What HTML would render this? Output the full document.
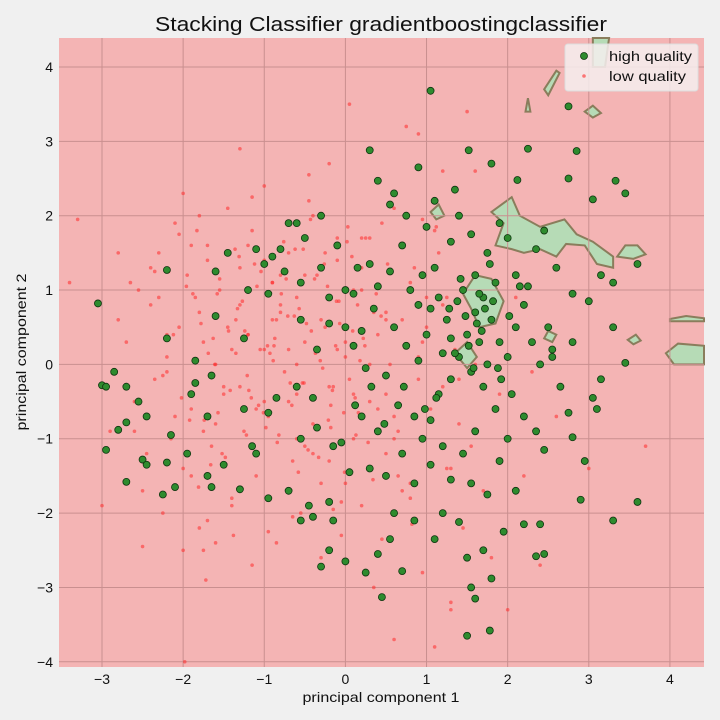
<!DOCTYPE html>
<html><head><meta charset="utf-8"><style>
body{margin:0;background:#f0f0f0;}
svg{display:block;font-family:"Liberation Sans","DejaVu Sans",sans-serif;}
</style></head><body>
<svg id="chart" width="720" height="720">
<rect width="720" height="720" fill="#f0f0f0"/>
<text x="381" y="31" font-size="20" text-anchor="middle" textLength="452" lengthAdjust="spacingAndGlyphs" fill="#111">Stacking Classifier gradientboostingclassifier</text>
<text x="381" y="702" font-size="14" text-anchor="middle" textLength="157" lengthAdjust="spacingAndGlyphs" fill="#111">principal component 1</text>
<text transform="translate(26,352) rotate(-90)" font-size="14" text-anchor="middle" textLength="157" lengthAdjust="spacingAndGlyphs" fill="#111">principal component 2</text>
<g id="plot"></g>
</svg>
<script>
const xTicks=[-3,-2,-1,0,1,2,3,4];
const yTicks=[-4,-3,-2,-1,0,1,2,3,4];
const highX=[1.05,0.3,1.52,1.8,2.25,0.9,2.75,2.85,3.33,3.45,0.4,0.6,1.1,1.35,2.12,2.75,3.05,3.15,3.3,3.6,-0.3,-0.6,-0.9,-1.1,-1.0,-0.8,-0.7,-2.2,-1.6,-1.45,-1.2,-0.95,-0.75,-0.55,-0.5,-3.05,-2.2,-3.0,-2.95,-2.85,-2.7,-2.55,-2.45,-2.8,-2.7,-2.95,-2.5,-2.45,-2.2,-2.15,-2.7,-2.25,-2.1,-1.95,-1.7,-1.65,-1.5,-1.3,-1.1,-1.15,-0.95,-0.95,-0.7,-0.55,-0.4,-0.45,-0.2,-0.15,-0.2,-0.3,0.0,0.25,0.4,0.55,0.45,0.7,0.85,0.6,1.1,1.2,1.4,1.5,1.6,1.55,1.5,1.78,1.8,1.7,1.95,2.2,2.35,2.45,2.4,2.9,3.3,3.6,2.95,2.8,2.75,3.05,3.1,3.15,3.45,3.3,3.0,2.8,2.35,2.45,2.0,-1.25,-1.85,-1.65,-1.85,-1.6,-1.7,-1.9,-1.25,-0.85,-0.6,-0.4,-0.35,-0.55,-0.15,-0.05,0.05,0.2,0.3,0.5,-0.55,-0.2,-0.35,0.0,0.1,0.2,0.35,0.1,0.15,0.3,0.4,0.55,0.7,0.8,0.9,0.95,1.1,1.15,1.25,0.6,0.75,0.9,0.5,0.65,0.85,0.95,1.05,1.15,1.3,1.4,1.5,1.6,1.7,1.8,1.9,2.0,2.1,2.2,2.3,2.4,2.5,1.6,1.75,1.55,1.9,2.1,2.25,1.45,1.3,1.55,1.7,1.85,1.6,1.45,1.3,1.2,1.05,0.85,0.7,0.4,0.25,1.0,1.2,1.65,1.75,2.05,2.2,1.9,1.75,1.55,2.1,2.8,2.6,2.45,2.35,1.4,2.0,2.55,2.65,0.55,1.3,1.0,0.75,-0.1,-0.3,0.0,-0.2,2.55,1.85,1.62,1.72,1.82,1.48,1.35,1.58,1.92,2.02,1.68,1.38,1.12,0.98,0.72,0.48,0.32,0.12,1.78,1.52,1.88,2.15,1.42,1.65,1.28,1.05];
const highY=[3.68,2.88,2.88,2.7,2.9,2.65,3.47,2.87,2.47,2.3,2.47,2.3,2.2,2.35,2.48,2.5,2.22,1.2,1.1,1.35,2.0,1.9,1.45,1.55,1.35,1.55,1.9,1.27,1.25,1.5,1.0,0.95,1.25,1.1,1.7,0.82,0.35,-0.28,-0.3,-0.1,-0.3,-0.5,-0.7,-0.88,-0.78,-1.15,-1.28,-1.35,-1.32,-0.95,-1.58,-1.75,-1.65,-1.2,-1.5,-1.65,-1.35,-1.68,-1.2,-1.1,-0.65,-1.8,-1.7,-2.1,-2.05,-1.9,-1.85,-2.1,-2.5,-2.72,-2.65,-2.8,-2.55,-2.35,-3.13,-2.78,-2.1,-2.0,-2.35,-2.0,-2.12,-2.6,-3.15,-3.0,-3.65,-3.58,-2.88,-2.5,-2.25,-2.15,-2.58,-2.55,-2.15,-1.82,-2.1,-1.85,-1.3,-0.98,-0.65,-0.45,-0.6,-0.2,0.02,0.5,0.85,0.3,-0.9,-1.15,-1.0,0.35,0.05,-0.15,-0.25,0.65,-0.7,-0.4,-0.6,-0.45,-0.3,-0.45,-0.85,-1.0,-1.1,-1.05,-1.45,-0.7,-1.4,-1.5,0.6,0.55,0.2,0.5,0.25,0.45,0.75,0.95,1.3,1.35,1.05,1.25,1.6,1.0,0.8,1.2,1.3,0.9,0.6,0.5,0.25,0.05,-0.15,-0.55,-0.7,-1.0,-0.75,-0.4,-0.2,0.1,0.4,0.7,0.9,0.6,0.3,0.1,0.5,0.8,0.3,0.0,0.5,1.2,1.5,1.75,1.9,1.2,1.05,1.0,0.35,-0.1,-0.3,-0.6,-0.9,-1.2,-1.55,-1.1,-1.35,-1.6,-1.2,-0.9,-0.05,0.4,0.15,0.3,0.0,-0.4,-0.7,-1.3,-1.75,-1.6,-1.7,0.95,1.3,1.8,1.55,2.0,1.7,0.1,-0.3,2.15,1.65,1.85,2.0,1.6,1.3,1.0,0.9,0.2,1.1,0.55,0.75,0.85,0.65,0.15,-0.05,-0.2,0.65,0.45,0.85,-0.45,-0.6,-0.3,-0.8,-0.3,-0.55,1.35,0.25,-0.05,1.05,1.15,0.95,0.75,0.75];
const lowX=[-3.3,-3.0,-2.8,-2.7,-2.6,-2.55,-2.5,-2.4,-2.35,-2.3,-2.25,-2.2,-2.15,-2.1,-2.05,-2.0,-1.95,-1.9,-1.85,-1.8,-1.75,-1.7,-1.65,-1.6,-1.55,-1.5,-1.45,-1.4,-1.35,-1.3,-1.25,-1.2,-1.15,-1.1,-1.05,-1.0,-0.95,-0.9,-0.85,-0.8,-0.75,-0.7,-0.65,-0.6,-0.55,-0.5,-0.45,-0.4,-0.35,-0.3,-0.25,-0.2,-0.15,-0.1,-0.05,0.0,0.05,0.1,0.15,0.2,0.25,0.3,0.35,0.4,0.45,0.5,0.55,0.6,0.65,0.7,0.75,0.8,0.85,0.9,0.95,1.0,1.05,1.1,1.15,1.2,1.25,1.3,1.35,1.4,1.45,1.5,1.55,1.6,1.7,1.8,1.9,2.0,2.2,2.4,2.6,3.0,3.7,-2.9,-2.65,-2.45,-2.2,-2.0,-1.8,-1.6,-1.4,-1.2,-1.0,-0.8,-0.6,-0.4,-0.2,0.0,0.2,0.4,0.6,0.8,1.0,1.2,1.4,-2.4,-2.1,-1.9,-1.7,-1.5,-1.3,-1.1,-0.9,-0.7,-0.5,-0.3,-0.1,0.1,0.3,0.5,0.7,0.9,1.1,1.3,-2.3,-2.0,-1.75,-1.45,-1.15,-0.85,-0.55,-0.25,0.05,0.35,0.65,0.95,1.25,-1.9,-1.6,-1.3,-1.0,-0.7,-0.4,-0.1,0.2,0.5,0.8,-2.6,-2.2,-1.8,-1.4,-1.0,-0.6,-0.2,0.2,0.6,1.0,-1.7,-1.2,-0.8,-0.3,0.1,0.6,-0.5,0.3,-0.9,0.0,1.2,1.6,2.3,2.1,-3.4,-0.6,0.5,1.3,-1.3,-2.8,0.9,
-2.12,-1.98,-1.83,-1.72,-1.61,-1.52,-1.38,-1.27,-1.16,-1.04,-0.93,-0.82,-0.71,-0.62,-0.51,-0.42,-0.33,-0.22,-0.12,-0.02,0.08,0.18,0.28,0.38,0.48,-2.05,-1.92,-1.78,-1.66,-1.55,-1.42,-1.33,-1.21,-1.09,-0.98,-0.87,-0.76,-0.66,-0.57,-0.46,-0.37,-0.26,-0.16,-0.07,0.03,0.13,0.24,0.34,0.44,-2.18,-2.02,-1.88,-1.74,-1.63,-1.48,-1.36,-1.24,-1.12,-1.01,-0.89,-0.79,-0.68,-0.58,-0.48,-0.38,-0.28,-0.18,-0.08,0.02,0.12,0.22,-1.96,-1.81,-1.69,-1.57,-1.44,-1.31,-1.19,-1.07,-0.96,-0.84,-0.73,-0.63,-0.53,-0.43,-0.31,-0.21,-0.11,-0.01,0.09,-2.35,-2.25,-1.58,-1.22,-0.88,-0.52,-0.18,0.16,0.52,0.82,1.12,-2.5,-1.15,-0.65,-0.05,0.45,0.95,-1.75,-1.35,-0.95,-0.45,-0.15];
const lowY=[1.95,-1.9,0.6,0.3,-0.5,1.0,-1.7,0.8,-0.2,1.5,-2.0,0.1,-1.0,1.9,0.5,-1.4,1.2,-0.6,0.9,-2.2,0.3,1.6,-1.1,0.0,1.0,-0.4,2.1,-1.8,0.6,1.3,-0.9,0.4,1.8,-1.5,0.2,2.4,-0.7,1.1,-2.4,0.7,-0.1,1.5,-1.3,0.9,-2.0,0.3,2.2,-0.8,1.2,-1.6,0.5,2.7,-0.3,1.4,-2.3,0.1,3.5,-1.0,0.8,-1.9,1.7,-0.5,-3.0,0.4,1.9,-1.2,0.0,-3.7,-0.9,0.6,3.2,-1.6,1.3,-0.2,-2.8,0.9,-0.6,-3.8,1.5,-0.3,-1.4,-3.3,0.2,-0.8,-2.2,3.4,-1.1,0.0,-1.7,-2.6,-0.4,-3.3,-1.5,-2.7,-0.7,-1.4,-1.1,-0.9,1.1,-1.2,0.4,-2.5,0.7,-0.8,0.2,1.6,-0.5,0.8,-1.0,2.0,-1.3,0.3,1.0,-0.6,2.1,-1.8,0.4,2.6,-0.2,1.3,-0.7,-1.5,1.4,-0.3,0.8,-0.6,1.1,0.2,-1.1,0.6,1.7,-0.4,0.0,0.7,-1.7,0.1,1.8,-1.4,0.9,2.3,-0.9,0.5,-2.7,0.6,-1.0,1.5,-0.2,0.7,-1.5,0.3,0.9,1.6,-2.4,-0.3,0.2,-0.5,-1.2,0.2,1.7,-0.4,1.1,-0.9,-0.1,2.0,-1.9,1.4,0.0,-0.3,1.3,-1.0,0.5,-2.1,0.4,1.2,-2.6,1.0,-0.7,1.2,1.7,0.6,-1.6,0.8,2.6,-0.1,0.9,1.1,-0.4,0.6,-3.2,2.9,1.5,3.1,0.4,-4.0,1.8,-2.9,0.0,-1.2,-2.3,
0.85,-0.45,1.25,0.15,-0.95,0.65,1.55,-0.25,0.45,-1.25,1.05,0.25,-0.65,1.45,0.05,-1.05,0.95,-0.15,1.75,-0.75,0.55,-1.35,1.15,-0.35,0.75,-0.15,1.05,-0.85,0.35,1.65,-0.55,0.75,-1.15,0.15,1.35,-0.35,0.55,1.85,-0.95,0.25,-1.55,0.65,1.25,-0.45,0.95,-0.75,0.35,-1.25,1.55,0.45,1.35,-0.65,0.05,0.95,-0.25,-1.45,0.55,1.15,-0.05,-0.85,0.85,1.65,-0.45,0.35,1.05,-1.65,0.15,-0.65,0.45,1.45,-0.35,-0.55,0.25,-1.05,1.15,0.65,-0.25,1.95,0.05,-0.75,0.85,-1.45,0.45,1.25,-0.15,0.95,-0.95,0.25,1.55,-0.55,-0.65,1.35,-2.15,1.85,-2.45,2.25,-2.05,-1.85,-2.35,1.95,-2.5,0.15,-2.25,2.55,-1.95,2.35,-2.2,-2.1,1.7,-1.35,0.85,0.55];
const greenRegions=[
 [[3.05,4.39],[3.05,4.0],[3.2,4.0],[3.25,4.39]],
 [[1.85,1.6],[1.95,1.9],[1.8,2.05],[2.05,2.25],[2.15,2.0],[2.4,1.85],[2.7,1.95],[2.85,1.75],[3.05,1.65],[3.3,1.45],[3.3,1.3],[3.1,1.35],[2.95,1.6],[2.72,1.62],[2.6,1.45],[2.4,1.55],[2.2,1.5],[2.05,1.55]],
 [[3.35,1.45],[3.45,1.6],[3.6,1.6],[3.7,1.48],[3.55,1.42]],
 [[1.45,0.95],[1.6,1.2],[1.8,1.15],[1.95,0.85],[1.85,0.55],[1.65,0.5],[1.55,0.75]],
 [[1.35,0.15],[1.5,0.3],[1.62,0.1],[1.5,-0.05]],
 [[2.45,0.35],[2.5,0.45],[2.6,0.4],[2.55,0.3]],
 [[4.0,0.61],[4.2,0.65],[4.42,0.62],[4.42,0.58],[4.0,0.58]],
 [[3.95,0.15],[4.1,0.28],[4.42,0.25],[4.42,0.0],[4.05,0.0]],
 [[2.45,3.7],[2.6,3.95],[2.64,3.92],[2.5,3.62]],
 [[2.22,3.4],[2.25,3.58],[2.28,3.4]],
 [[2.95,3.4],[3.05,3.48],[3.15,3.38],[3.05,3.32]],
 [[3.48,0.33],[3.58,0.4],[3.64,0.32],[3.55,0.27]],
 [[1.05,2.05],[1.15,2.15],[1.22,2.0],[1.12,1.95]]
];
const L=59,R=704,T=38,B=667,X0=-3.53,X1=4.42,Y0=-4.07,Y1=4.39;
const sx=v=>L+(v-X0)/(X1-X0)*(R-L);
const sy=v=>B-(v-Y0)/(Y1-Y0)*(B-T);
const NS='http://www.w3.org/2000/svg';
const plot=document.getElementById('plot');
function mk(tag,attrs,parent){const e=document.createElementNS(NS,tag);for(const k in attrs)e.setAttribute(k,attrs[k]);(parent||plot).appendChild(e);return e;}
const bg=mk('rect',{x:L,y:T,width:R-L,height:B-T,fill:'#f4b4b4'});


greenRegions.forEach((poly,i)=>{
 const p=mk('polygon',{points:poly.map(q=>sx(q[0])+','+sy(q[1])).join(' '),fill:'#b6dbb6',stroke:'#8a7d5c','stroke-width':2});
 
 
});
xTicks.forEach(t=>{
 const l=mk('line',{x1:sx(t),x2:sx(t),y1:T,y2:B,stroke:'#c98f8f','stroke-width':1});
 
 
 const tx=mk('text',{x:sx(t),y:B+17,'font-size':14,'text-anchor':'middle',fill:'#111'});
 tx.textContent=String(t).replace('-','\u2212');
 
 
});
yTicks.forEach(t=>{
 const l=mk('line',{x1:L,x2:R,y1:sy(t),y2:sy(t),stroke:'#c98f8f','stroke-width':1});
 
 
 const tx=mk('text',{x:L-6,y:sy(t)+5,'font-size':14,'text-anchor':'end',fill:'#111'});
 tx.textContent=String(t).replace('-','\u2212');
 
 
});
lowX.forEach((x,i)=>{
 const c=mk('circle',{cx:sx(x),cy:sy(lowY[i]),r:1.8,fill:'#ff2a2a','fill-opacity':0.55});
 
 
});
highX.forEach((x,i)=>{
 const c=mk('circle',{cx:sx(x),cy:sy(highY[i]),r:3.5,fill:'#2e8b2e',stroke:'#103510','stroke-width':0.8});
 
 
});
const lg=mk('g',{});


mk('rect',{x:565,y:44,width:133,height:47,rx:3,fill:'#f4eeee','fill-opacity':0.85,stroke:'#dddddd'},lg);
mk('circle',{cx:584,cy:56,r:3.5,fill:'#2e8b2e',stroke:'#103510','stroke-width':0.8},lg);
mk('circle',{cx:584,cy:76,r:1.8,fill:'#ff2a2a','fill-opacity':0.6},lg);
const t1=mk('text',{x:609,y:61,'font-size':14,fill:'#111',textLength:83,lengthAdjust:'spacingAndGlyphs'},lg);t1.textContent='high quality';


const t2=mk('text',{x:609,y:81,'font-size':14,fill:'#111',textLength:77,lengthAdjust:'spacingAndGlyphs'},lg);t2.textContent='low quality';


</script>
</body></html>
